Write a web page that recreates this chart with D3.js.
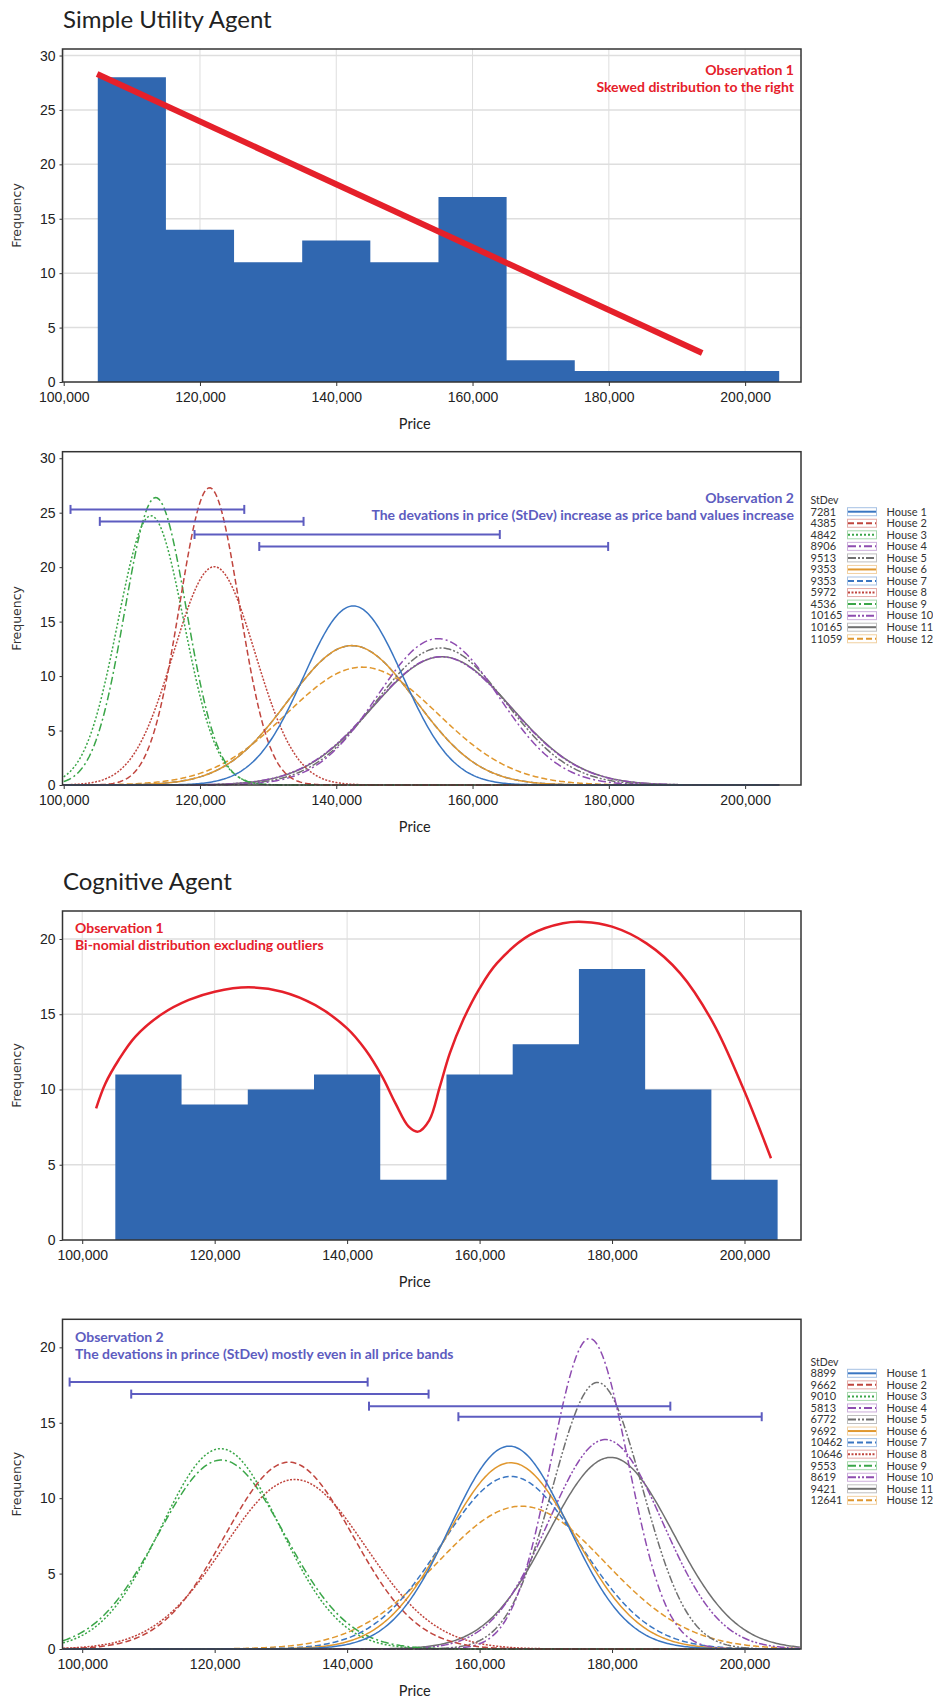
<!DOCTYPE html>
<html>
<head>
<meta charset="utf-8">
<script src="https://cdn.jsdelivr.net/npm/d3@7"></script>
<style>
  body { margin: 0; background: #fff; }
  text { font-family: Lato, "Liberation Sans", sans-serif; }
</style>
</head>
<body>
<svg id="page" width="933" height="1699"></svg>
<script>
// ---- data ----
var priceTicks = [100000, 120000, 140000, 160000, 180000, 200000];
var binStarts = [105000, 115000, 125000, 135000, 145000, 155000, 165000, 175000, 185000, 195000];
var binWidth = 10000;
var simpleFreq = [28, 14, 11, 13, 11, 17, 2, 1, 1, 1];
var cognitiveFreq = [11, 9, 10, 11, 4, 11, 13, 18, 10, 4];
var simpleFreqTicks = [0, 5, 10, 15, 20, 25, 30];
var cognitiveFreqTicks = [0, 5, 10, 15, 20];

var houseNames = ["House 1", "House 2", "House 3", "House 4", "House 5", "House 6",
                  "House 7", "House 8", "House 9", "House 10", "House 11", "House 12"];
var housesPerBand = 30;

var simpleStDev = [7281, 4385, 4842, 8906, 9513, 9353, 9353, 5972, 4536, 10165, 10165, 11059];
var simpleMean  = [142500, 121400, 112800, 154900, 155300, 142300, 142300, 122100, 113500, 155400, 155500, 143800];
var cognitiveStDev = [8899, 9662, 9010, 5813, 6772, 9692, 10462, 10646, 9553, 8619, 9421, 12641];
var cognitiveMean  = [164500, 131200, 120900, 176600, 177800, 164700, 164700, 132100, 121000, 179000, 179800, 166300];

// horizontal price-band ranges
var simpleRangeLo = [101000, 105300, 119200, 128700];
var simpleRangeHi = [126500, 135200, 164000, 179900];
var simpleRangeAt = [25.3, 24.2, 23.0, 21.9];
var cognitiveRangeLo = [98100, 107400, 143300, 156800];
var cognitiveRangeHi = [143100, 152300, 188800, 202600];
var cognitiveRangeAt = [17.7, 16.9, 16.1, 15.4];

// hand drawn trend lines
var simpleTrendX = [104900, 193700];
var simpleTrendY = [28.3, 2.66];
var cognitiveTrendX = [102100, 103500, 105500, 108000, 112000, 116100, 120000, 125100, 130200, 135200,
                       140000, 142800, 145300, 147300, 149300, 150700, 152400, 154000, 155500, 157500,
                       160000, 162600, 167600, 172600, 175700, 180000, 185200, 190300, 195300, 199800,
                       204000];
var cognitiveTrendY = [8.75, 10.4, 11.96, 13.5, 15.0, 15.95, 16.5, 16.79, 16.5, 15.6,
                       14.06, 12.62, 10.85, 9.08, 7.53, 7.2, 7.95, 10.19, 12.4, 14.6,
                       16.72, 18.38, 20.27, 21.04, 21.13, 20.82, 19.71, 17.72, 14.4, 10.08,
                       5.43];

// ---- styles ----
var houseColors = ["#3a76c2", "#c0453e", "#3aa648", "#8e4cb0", "#707070", "#e0972e",
                   "#3a76c2", "#c0453e", "#3aa648", "#8e4cb0", "#707070", "#e0972e"];
var houseDash = [null, "6,3", "2,2", "8,3,2,3", "8,2,2,2,2,2", null,
                 "6,3", "2,1.5", "8,3,2,3", "8,2,2,2,2,2", null, "6,3"];
var barColor = "#3067b0";
var obsRed = "#e5202a";
var obsBlue = "#5d5cc0";

var svg = d3.select("#page");
var fmt = d3.format(",");

function frame(top, bottom, xDomain, yMax, yTicks, grid) {
  var left = 62.5, right = 801;
  var x = d3.scaleLinear().domain(xDomain).range([left, right]);
  var y = d3.scaleLinear().domain([0, yMax]).range([bottom, top]);
  var g = svg.append("g");

  if (grid) {
    g.selectAll("line.vg").data(priceTicks).enter().append("line")
      .attr("x1", x).attr("x2", x).attr("y1", top).attr("y2", bottom)
      .attr("stroke", "#dedede").attr("stroke-width", 1);
    g.selectAll("line.hg").data(yTicks.slice(1)).enter().append("line")
      .attr("x1", left).attr("x2", right)
      .attr("y1", function(d){ return y(d); }).attr("y2", function(d){ return y(d); })
      .attr("stroke", "#dedede").attr("stroke-width", 1.5);
  }

  var xa = g.append("g").attr("transform", "translate(0," + bottom + ")")
    .call(d3.axisBottom(x).tickValues(priceTicks).tickFormat(fmt).tickSize(4).tickPadding(6));
  var ya = g.append("g").attr("transform", "translate(" + left + ",0)")
    .call(d3.axisLeft(y).tickValues(yTicks).tickSize(3).tickPadding(4));
  [xa, ya].forEach(function(a){
    a.select(".domain").remove();
    a.selectAll("line").attr("stroke", "#333");
    a.selectAll("text").attr("fill", "#222")
      .style("font-family", "'Liberation Sans', Arial, sans-serif").style("font-size", "14px");
  });

  g.append("text").attr("x", (left + right) / 2 - 17).attr("y", bottom + 47)
    .attr("text-anchor", "middle").attr("fill", "#222").style("font-size", "14.5px").text("Price");
  g.append("text")
    .attr("transform", "translate(21," + (top + bottom) / 2 + ") rotate(-90)")
    .attr("text-anchor", "middle").attr("fill", "#333")
    .style("font-family", "'DejaVu Sans', Verdana, sans-serif").style("font-size", "12.5px")
    .text("Frequency");

  return {g: g, x: x, y: y, top: top, bottom: bottom, left: left, right: right};
}

function border(c) {
  c.g.append("rect").attr("x", c.left).attr("y", c.top)
    .attr("width", c.right - c.left).attr("height", c.bottom - c.top)
    .attr("fill", "none").attr("stroke", "#333").attr("stroke-width", 1.5);
}

// bars drawn as one stepped shape so there are no seams between neighbours
function histogram(c, freq) {
  var pts = [];
  freq.forEach(function(d, i){
    pts.push([binStarts[i], d]);
    pts.push([binStarts[i] + binWidth, d]);
  });
  var area = d3.area()
    .x(function(p){ return c.x(p[0]); })
    .y0(c.y(0))
    .y1(function(p){ return c.y(p[1]); });
  c.g.append("path").attr("d", area(pts)).attr("fill", barColor);
}

function bellCurves(c, means, sds, xFrom, xTo) {
  var xs = d3.range(xFrom, xTo + 1, 250);
  var line = d3.line().x(function(p){ return c.x(p[0]); }).y(function(p){ return c.y(p[1]); });
  for (var i = houseNames.length - 1; i >= 0; i--) {
    var m = means[i], s = sds[i];
    var pts = xs.map(function(v){
      var z = (v - m) / s;
      return [v, housesPerBand * binWidth * Math.exp(-0.5 * z * z) / (s * Math.sqrt(2 * Math.PI))];
    });
    c.g.append("path").attr("d", line(pts)).attr("fill", "none")
      .attr("stroke", houseColors[i]).attr("stroke-width", 1.5)
      .attr("stroke-dasharray", houseDash[i]);
  }
}

function ranges(c, lo, hi, at) {
  lo.forEach(function(v, i){
    var yy = c.y(at[i]);
    c.g.append("line").attr("x1", c.x(v)).attr("x2", c.x(hi[i])).attr("y1", yy).attr("y2", yy)
      .attr("stroke", obsBlue).attr("stroke-width", 2);
    [v, hi[i]].forEach(function(e){
      c.g.append("line").attr("x1", c.x(e)).attr("x2", c.x(e)).attr("y1", yy - 4.5).attr("y2", yy + 4.5)
        .attr("stroke", obsBlue).attr("stroke-width", 2);
    });
  });
}

function note(c, lines, color, xPos, anchor, y0) {
  lines.forEach(function(t, i){
    c.g.append("text").attr("x", xPos).attr("y", y0 + i * 17)
      .attr("text-anchor", anchor).attr("fill", color)
      .style("font-weight", "700").style("font-size", "14px").text(t);
  });
}

function legend(sds, y0) {
  var g = svg.append("g");
  g.append("text").attr("x", 810.5).attr("y", y0 - 11.6 + 3.8).attr("fill", "#333")
    .style("font-size", "10.5px").text("StDev");
  houseNames.forEach(function(name, i){
    var yy = y0 + i * 11.55;
    g.append("text").attr("x", 810.5).attr("y", yy + 3.8).attr("fill", "#333")
      .style("font-size", "11px").text(sds[i]);
    g.append("rect").attr("x", 847.5).attr("y", yy - 4).attr("width", 29).attr("height", 8)
      .attr("fill", "#fff").attr("stroke", houseColors[i]).attr("stroke-opacity", 0.45);
    g.append("line").attr("x1", 848).attr("x2", 876).attr("y1", yy).attr("y2", yy)
      .attr("stroke", houseColors[i]).attr("stroke-width", 2)
      .attr("stroke-dasharray", houseDash[i]);
    g.append("text").attr("x", 886.5).attr("y", yy + 3.8).attr("fill", "#333")
      .style("font-size", "11px").text(name);
  });
}

function title(t, y) {
  svg.append("text").attr("x", 63).attr("y", y).attr("fill", "#222")
    .style("font-size", "24px").text(t);
}

// ---- Simple Utility Agent ----
title("Simple Utility Agent", 28);

var c1 = frame(49, 382, [99824, 208202], 30.6, simpleFreqTicks, true);
histogram(c1, simpleFreq);
c1.g.append("line")
  .attr("x1", c1.x(simpleTrendX[0])).attr("y1", c1.y(simpleTrendY[0]))
  .attr("x2", c1.x(simpleTrendX[1])).attr("y2", c1.y(simpleTrendY[1]))
  .attr("stroke", obsRed).attr("stroke-width", 6);
note(c1, ["Observation 1", "Skewed distribution to the right"], obsRed, 794, "end", 75);
border(c1);

var c2 = frame(451.7, 785, [99824, 208202], 30.6, simpleFreqTicks, false);
bellCurves(c2, simpleMean, simpleStDev, 100000, 205000);
ranges(c2, simpleRangeLo, simpleRangeHi, simpleRangeAt);
note(c2, ["Observation 2", "The devations in price (StDev) increase as price band values increase"],
     obsBlue, 794, "end", 503);
border(c2);
legend(simpleStDev, 511.7);

// ---- Cognitive Agent ----
title("Cognitive Agent", 890);

var c3 = frame(911, 1240, [97025, 208531], 21.86, cognitiveFreqTicks, true);
histogram(c3, cognitiveFreq);
var trend = d3.line().curve(d3.curveCatmullRom)
  .x(function(d, i){ return c3.x(cognitiveTrendX[i]); })
  .y(function(d){ return c3.y(d); });
c3.g.append("path").attr("d", trend(cognitiveTrendY)).attr("fill", "none")
  .attr("stroke", obsRed).attr("stroke-width", 2.5);
note(c3, ["Observation 1", "Bi-nomial distribution excluding outliers"], obsRed, 75, "start", 933);
border(c3);

var c4 = frame(1319.3, 1649, [97025, 208531], 21.86, cognitiveFreqTicks, false);
bellCurves(c4, cognitiveMean, cognitiveStDev, 97100, 208500);
ranges(c4, cognitiveRangeLo, cognitiveRangeHi, cognitiveRangeAt);
note(c4, ["Observation 2", "The devations in prince (StDev) mostly even in all price bands"],
     obsBlue, 75, "start", 1342);
border(c4);
legend(cognitiveStDev, 1373.3);
</script>
</body>
</html>
